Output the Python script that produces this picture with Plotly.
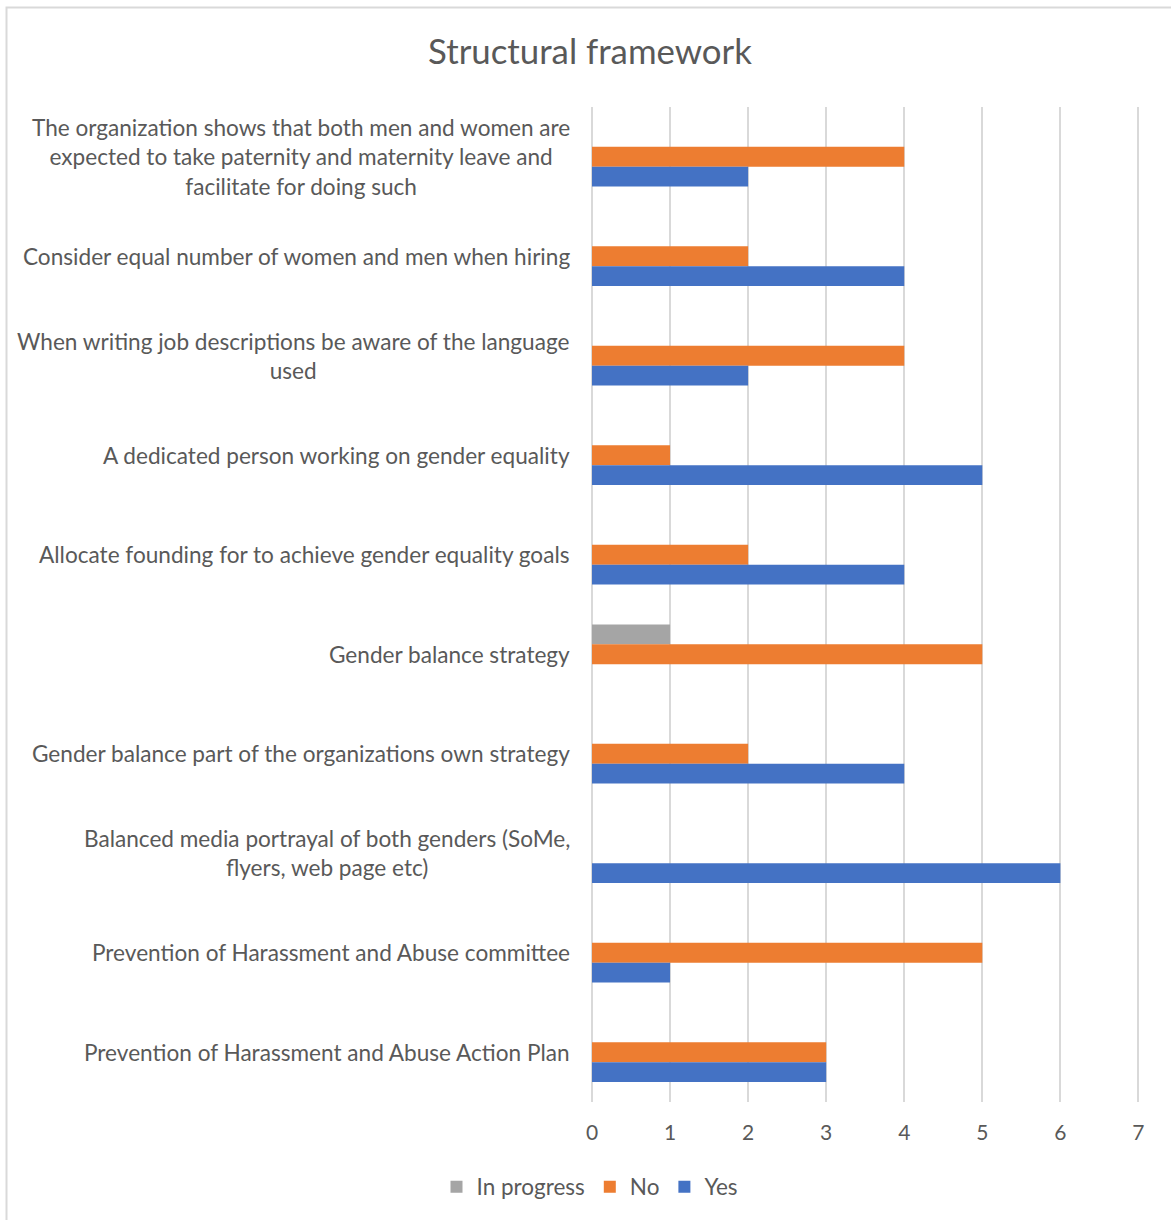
import plotly.graph_objects as go

# Survey items, top to bottom
categories = [
    "The organization shows that both men and women are expected to take paternity and maternity leave and facilitate for doing such",
    "Consider equal number of women and men when hiring",
    "When writing job descriptions be aware of the language used",
    "A dedicated person working on gender equality",
    "Allocate founding for to achieve gender equality goals",
    "Gender balance strategy",
    "Gender balance part of the organizations own strategy",
    "Balanced media portrayal of both genders (SoMe, flyers, web page etc)",
    "Prevention of Harassment and Abuse committee",
    "Prevention of Harassment and Abuse Action Plan",
]

# Wrapped versions of the item texts used as axis labels
category_labels = [
    "The organization shows that both men and women are<br>expected to take paternity and maternity leave and<br>facilitate for doing such",
    "Consider equal number of women and men when hiring",
    "When writing job descriptions be aware of the language<br>used",
    "A dedicated person working on gender equality",
    "Allocate founding for to achieve gender equality goals",
    "Gender balance strategy",
    "Gender balance part of the organizations own strategy",
    "Balanced media portrayal of both genders (SoMe,<br>flyers, web page etc)",
    "Prevention of Harassment and Abuse committee",
    "Prevention of Harassment and Abuse Action Plan",
]

in_progress = [0, 0, 0, 0, 0, 1, 0, 0, 0, 0]
no = [4, 2, 4, 1, 2, 5, 2, 0, 5, 3]
yes = [2, 4, 2, 5, 4, 0, 4, 6, 1, 3]

x_ticks = [0, 1, 2, 3, 4, 5, 6, 7]

FONT = "Lato, Carlito, Calibri, sans-serif"
TEXT = "#595959"
GRID = "#D9D9D9"

W, H = 1171, 1220
M_L, M_R, M_T, M_B = 592, 31, 107, 118

fig = go.Figure()
for name, vals, color in [
    ("In progress", in_progress, "#A5A5A5"),
    ("No", no, "#ED7D31"),
    ("Yes", yes, "#4472C4"),
]:
    fig.add_trace(go.Bar(
        name=name, x=vals, y=categories, orientation="h",
        marker=dict(color=color, line=dict(width=0)),
    ))

# Category labels, centred line by line and right-aligned next to the plot
for cat, label in zip(categories, category_labels):
    fig.add_annotation(
        x=0, xref="paper", y=cat, yref="y",
        text=label, showarrow=False, xanchor="right", yanchor="middle",
        align="center", xshift=-20,
        font=dict(family=FONT, size=22.6, color=TEXT),
    )

# Light frame around the chart area
pw = W - M_L - M_R
ph = H - M_T - M_B
fig.add_shape(
    type="rect", xref="paper", yref="paper",
    x0=(6.5 - M_L) / pw, x1=(W + 10 - M_L) / pw,
    y0=(H - M_B - (H + 10)) / ph, y1=(H - M_B - 7.5) / ph,
    line=dict(color=GRID, width=2), fillcolor="rgba(0,0,0,0)", layer="below",
)

fig.update_layout(
    width=W, height=H,
    margin=dict(l=M_L, r=M_R, t=M_T, b=M_B),
    barmode="group", bargap=0.4, bargroupgap=0,
    paper_bgcolor="white", plot_bgcolor="white",
    font=dict(family=FONT, color=TEXT),
    title=dict(
        text="Structural framework", xref="container", yref="container",
        x=590 / W, xanchor="center", y=1 - 52 / H, yanchor="middle",
        font=dict(family=FONT, size=34.8, color=TEXT),
    ),
    xaxis=dict(
        # a little headroom past 7 so its gridline is kept
        range=[0, 7.02], tickvals=x_ticks, showgrid=True, gridcolor=GRID, gridwidth=1.5,
        zeroline=True, zerolinecolor=GRID, zerolinewidth=1.5, showline=False,
        ticks="", ticklabelstandoff=16,
        tickfont=dict(family=FONT, size=21, color=TEXT),
    ),
    yaxis=dict(
        type="category", range=[9.5, -0.5], showticklabels=False,
        showgrid=False, zeroline=False, showline=False, ticks="",
    ),
    legend=dict(
        orientation="h", xref="container", yref="container",
        x=590 / W, xanchor="center", y=1 - 1187 / H, yanchor="middle",
        font=dict(family=FONT, size=22.5, color=TEXT),
        itemwidth=30, bgcolor="rgba(0,0,0,0)",
    ),
    showlegend=True,
)

fig.write_html("out.html")
